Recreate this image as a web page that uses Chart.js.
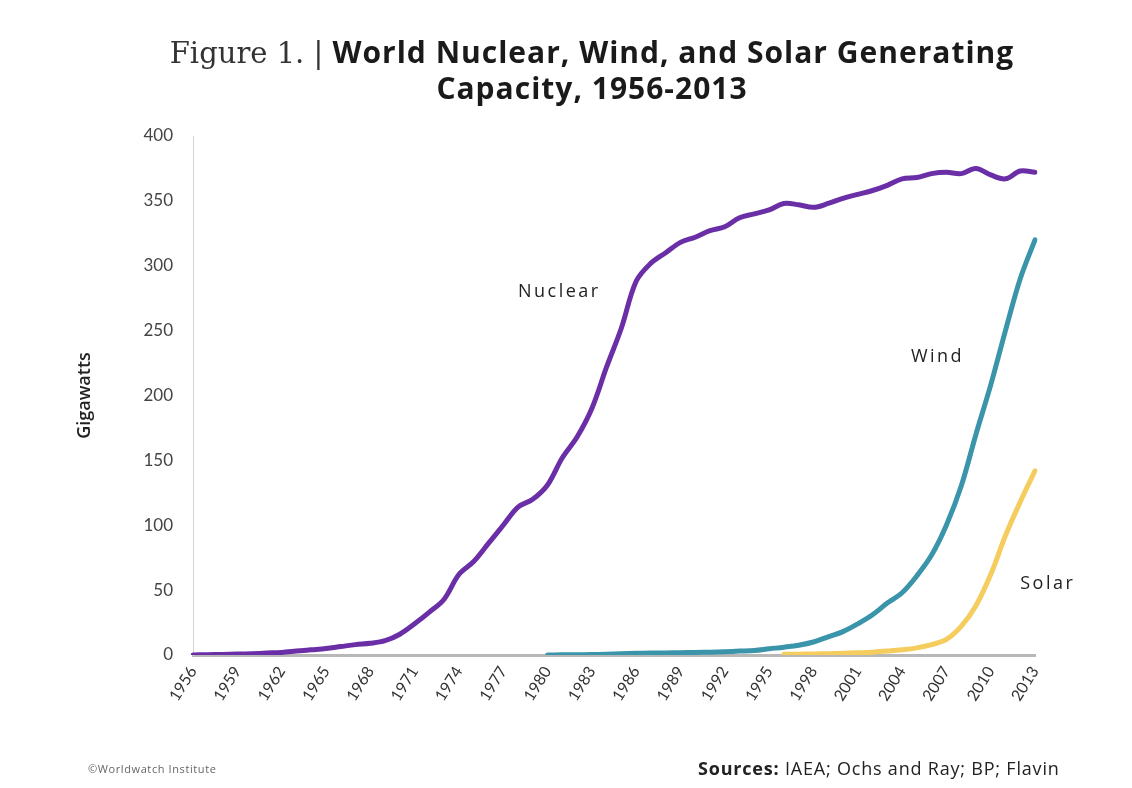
<!DOCTYPE html>
<html lang="en">
<head>
    <meta charset="UTF-8">
    <title>World Nuclear, Wind, and Solar Generating Capacity, 1956-2013</title>
    <script src="https://cdn.jsdelivr.net/npm/chart.js"></script>
    <style>
        body { margin: 0; background: #fff; }
        #wrap { position: relative; width: 1132px; height: 788px; overflow: hidden; }
        #capacityChart { position: absolute; left: 0; top: 0; }
        .title { position: absolute; left: 0; width: 1184px; text-align: center; color: #1a1a1a;
                 font-family: "Open Sans", sans-serif; font-weight: bold; font-size: 30px; letter-spacing: 1px;
                 line-height: 36px; white-space: nowrap; }
        .title .fig { font-family: "DejaVu Serif", serif; font-weight: normal; font-size: 29px; letter-spacing: 0; color: #333; }
        .note { position: absolute; font-family: "Open Sans", sans-serif; white-space: nowrap; }
    </style>
</head>
<body>
<div id="wrap">
    <canvas id="capacityChart" width="1132" height="788"></canvas>
    <div class="title" style="top:34px"><span class="fig">Figure 1. | </span>World Nuclear, Wind, and Solar Generating</div>
    <div class="title" style="top:70px">Capacity, 1956-2013</div>
    <div class="note" style="left:88px; top:761px; font-size:11px; letter-spacing:0.6px; color:#666;">©Worldwatch Institute</div>
    <div class="note" style="left:698px; top:756px; font-size:18px; letter-spacing:0.8px; color:#222;"><b>Sources:</b> IAEA; Ochs and Ray; BP; Flavin</div>
</div>

<script>
    // années 1956 -> 2013
    const years = [];
    for (let y = 1956; y <= 2013; y++) years.push(String(y));

    // Gigawatts
    const nuclear = [0, 0.2, 0.4, 0.7, 1, 1.5, 2, 3, 4, 5,
        6.5, 8, 9, 11, 16, 24, 33, 43, 62, 72,
        86, 100, 114, 120, 131, 152, 168, 190, 222, 252,
        288, 302, 310, 318, 322, 327, 330, 337, 340, 343,
        348, 347, 345, 348, 352, 355, 358, 362, 367, 368,
        371, 372, 371, 375, 370, 367, 373, 372];

    // éolien à partir de 1980
    const wind = [null, null, null, null, null, null, null, null, null, null,
        null, null, null, null, null, null, null, null, null, null,
        null, null, null, null, 0, 0.1, 0.2, 0.3, 0.6, 1,
        1.3, 1.5, 1.6, 1.8, 2, 2.2, 2.5, 3, 3.5, 4.8,
        6, 7.5, 10, 14, 18, 24, 31, 40, 48, 61,
        77, 100, 130, 170, 208, 250, 290, 320];

    // solaire à partir de 1996
    const solar = [null, null, null, null, null, null, null, null, null, null,
        null, null, null, null, null, null, null, null, null, null,
        null, null, null, null, null, null, null, null, null, null,
        null, null, null, null, null, null, null, null, null, null,
        0.5, 0.6, 0.8, 1, 1.3, 1.7, 2.2, 3, 4, 5.5,
        8, 12, 22, 38, 62, 92, 118, 142];

    const yTicks = [0, 50, 100, 150, 200, 250, 300, 350, 400];

    // étiquettes posées sur les courbes (année, valeur)
    const seriesLabels = {
        id: 'seriesLabels',
        afterDatasetsDraw(chart) {
            const { ctx, scales: { x, y } } = chart;
            const marks = [
                { text: 'Nuclear', year: 1978, value: 280 },
                { text: 'Wind', year: 2004.6, value: 230 },
                { text: 'Solar', year: 2012, value: 55 }
            ];
            ctx.save();
            ctx.font = '18px "Open Sans", sans-serif';
            ctx.letterSpacing = '2.5px';
            ctx.fillStyle = '#222';
            ctx.textBaseline = 'middle';
            marks.forEach(m => {
                ctx.fillText(m.text, x.getPixelForValue(m.year - 1956), y.getPixelForValue(m.value));
            });
            ctx.restore();
        }
    };

    const lineStyle = { borderWidth: 5, pointRadius: 0, tension: 0.35, fill: false, borderCapStyle: 'round', spanGaps: false };

    new Chart(document.getElementById('capacityChart').getContext('2d'), {
        type: 'line',
        data: {
            labels: years,
            datasets: [
                { label: 'Solar', data: solar, borderColor: '#f4cd5e', ...lineStyle },
                { label: 'Wind', data: wind, borderColor: '#3a94aa', ...lineStyle },
                { label: 'Nuclear', data: nuclear, borderColor: '#6a2fa6', ...lineStyle }
            ]
        },
        options: {
            responsive: false,
            animation: false,
            devicePixelRatio: 1,
            layout: { padding: { top: 136, left: 70, right: 97, bottom: 0 } },
            plugins: { legend: { display: false }, tooltip: { enabled: false }, title: { display: false } },
            scales: {
                x: {
                    grid: { display: false, drawTicks: false },
                    border: { color: '#b8b8b8', width: 3 },
                    ticks: {
                        autoSkip: false,
                        maxRotation: 58,
                        minRotation: 58,
                        padding: 8,
                        color: '#333',
                        font: { family: 'Lato, sans-serif', size: 16 },
                        callback: function (val, i) { return i % 3 === 0 ? years[i] : ''; }
                    },
                    afterFit(scale) { scale.height = 133; }
                },
                y: {
                    min: 0,
                    max: 400,
                    afterBuildTicks(scale) { scale.ticks = yTicks.map(v => ({ value: v })); },
                    grid: { display: false, drawTicks: false },
                    border: { color: '#d4d4d4', width: 1 },
                    ticks: { padding: 20, color: '#444', font: { family: 'Lato, sans-serif', size: 17 } },
                    title: { display: true, text: 'Gigawatts', color: '#222', padding: { top: 4, bottom: 0 },
                             font: { family: '"Open Sans", sans-serif', size: 18, weight: '600' } },
                    afterFit(scale) { scale.width = 123; }
                }
            }
        },
        plugins: [seriesLabels]
    });
</script>
</body>
</html>
